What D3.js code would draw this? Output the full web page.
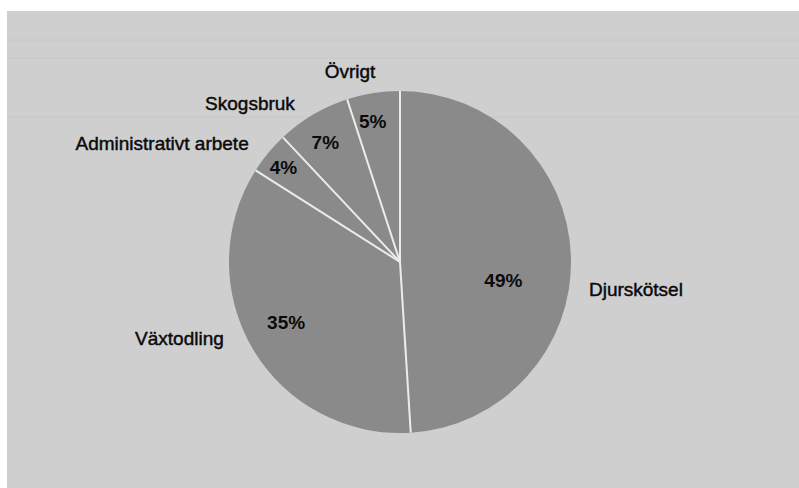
<!DOCTYPE html>
<html>
<head>
<meta charset="utf-8">
<script src="https://cdn.jsdelivr.net/npm/d3@7"></script>
<style>
  html, body { margin: 0; padding: 0; background: #ffffff; }
  svg { display: block; }
</style>
</head>
<body>
<svg id="chart" width="799" height="488"></svg>
<script>
// ---- data ----
const categories = ["Djurskötsel", "Växtodling", "Administrativt arbete", "Skogsbruk", "Övrigt"];
const shares = [49, 35, 4, 7, 5];
const percentLabels = ["49%", "35%", "4%", "7%", "5%"];

// ---- layout / style config (not data) ----
const W = 799, H = 488;
const cx = 400, cy = 262, R = 171;
// angle nudges (deg) and radii for labels, tuned to the original print
const pctPlace = [ {da: 12, r: 105}, {da: 2.6, r: 129}, {da: -0.6, r: 150}, {da: -1.4, r: 141}, {da: -2, r: 143} ];
const namePlace = [ {da: 10.2, r: 191, anchor: "start"}, {da: 7.2, r: 192, anchor: "end"},
                    {da: -1.6, r: 192, anchor: "end"}, {da: -3, r: 190, anchor: "end"},
                    {da: -5.7, r: 197, anchor: "middle"} ];

const svg = d3.select("#chart");

// paper background: grey scan area with white margins top & left
svg.append("rect").attr("x", 0).attr("y", 0).attr("width", W).attr("height", H).attr("fill", "#ffffff");
svg.append("rect").attr("x", 7).attr("y", 11).attr("width", W - 7).attr("height", H - 11).attr("fill", "#cfcfcf");
// very faint show-through rules of the table on the reverse side
const ghostRules = [40, 58, 117];
svg.append("g").selectAll("line").data(ghostRules).join("line")
  .attr("x1", 7).attr("x2", W).attr("y1", d => d).attr("y2", d => d)
  .attr("stroke", "#c8c8c8").attr("stroke-width", 1);

const pie = d3.pie().sort(null).value(d => d)(shares);
const arc = d3.arc().innerRadius(0).outerRadius(R);

const g = svg.append("g").attr("transform", `translate(${cx},${cy})`);

g.selectAll("path.slice").data(pie).join("path")
  .attr("class", "slice")
  .attr("d", arc)
  .attr("fill", "#8a8a8a")
  .attr("stroke", "none");

// white separators
g.selectAll("line.sep").data(pie).join("line")
  .attr("class", "sep")
  .attr("x1", 0).attr("y1", 0)
  .attr("x2", d => R * Math.sin(d.startAngle))
  .attr("y2", d => -R * Math.cos(d.startAngle))
  .attr("stroke", "#ececec").attr("stroke-width", 2);

const toRad = Math.PI / 180;
function polar(d, i, place) {
  const a = (d.startAngle + d.endAngle) / 2 + place[i].da * toRad;
  return [place[i].r * Math.sin(a), -place[i].r * Math.cos(a)];
}

const font = "'Liberation Sans', Arial, Helvetica, sans-serif";

g.selectAll("text.pct").data(pie).join("text")
  .attr("class", "pct")
  .attr("x", (d, i) => polar(d, i, pctPlace)[0])
  .attr("y", (d, i) => polar(d, i, pctPlace)[1])
  .attr("text-anchor", "middle")
  .attr("dominant-baseline", "central")
  .attr("font-family", font)
  .attr("font-weight", "bold")
  .attr("font-size", 19)
  .attr("fill", "#0a0a0a")
  .text((d, i) => percentLabels[i]);

g.selectAll("text.name").data(pie).join("text")
  .attr("class", "name")
  .attr("x", (d, i) => polar(d, i, namePlace)[0])
  .attr("y", (d, i) => polar(d, i, namePlace)[1])
  .attr("text-anchor", (d, i) => namePlace[i].anchor)
  .attr("dominant-baseline", "central")
  .attr("font-family", font)
  .attr("font-size", 19)
  .attr("fill", "#0a0a0a")
  .attr("stroke", "#0a0a0a")
  .attr("stroke-width", 0.45)
  .text((d, i) => categories[i]);
</script>
</body>
</html>
